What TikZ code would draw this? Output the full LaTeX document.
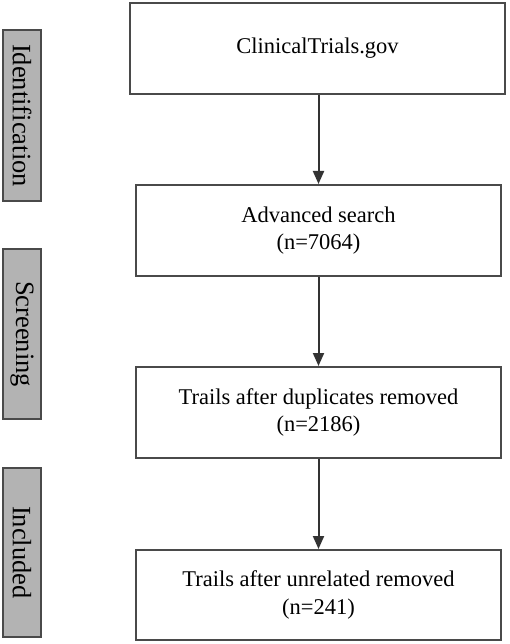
\documentclass[tikz,border=0pt]{standalone}
\usepackage{fontspec}
\setmainfont{Liberation Serif}
\usetikzlibrary{arrows.meta}
\definecolor{edgegray}{HTML}{4A4A4A}
\definecolor{sidefill}{HTML}{B3B3B3}
\definecolor{arrgray}{HTML}{333333}
\tikzset{
  flowbox/.style={draw=edgegray, line width=2pt, fill=white, align=center,
    inner sep=0pt, font=\fontsize{22.5}{27.5}\selectfont},
  sidebox/.style={draw=edgegray, line width=2pt, fill=sidefill, rotate=-90,
    inner sep=0pt, minimum height=38pt, font=\fontsize{26.5}{30}\selectfont},
  flowarrow/.style={draw=arrgray, line width=2pt, -{Triangle[width=11pt,length=13pt]}}
}
\begin{document}
\begin{tikzpicture}[x=1pt,y=-1pt]
\useasboundingbox (0,0) rectangle (510,644);
\node[flowbox, minimum width=375pt, minimum height=91pt] (b1) at (317.5,48.5) {ClinicalTrials.gov};
\node[flowbox, minimum width=365pt, minimum height=91pt] (b2) at (318.5,230.5) {Advanced search\\(n=7064)};
\node[flowbox, minimum width=365pt, minimum height=91pt] (b3) at (318.5,412.5) {Trails after duplicates removed\\(n=2186)};
\node[flowbox, minimum width=365pt, minimum height=90pt] (b4) at (318.5,595) {Trails after unrelated removed\\(n=241)};
\node[sidebox, minimum width=171pt] (s1) at (22,115.5) {Identification};
\node[sidebox, minimum width=170pt] (s2) at (22,334) {Screening};
\node[sidebox, minimum width=169pt] (s3) at (22,552.5) {Included};
\draw[flowarrow] (b2.north |- b1.south) -- (b2.north);
\draw[flowarrow] (b2.south) -- (b3.north);
\draw[flowarrow] (b3.south) -- (b4.north);
\end{tikzpicture}
\end{document}
